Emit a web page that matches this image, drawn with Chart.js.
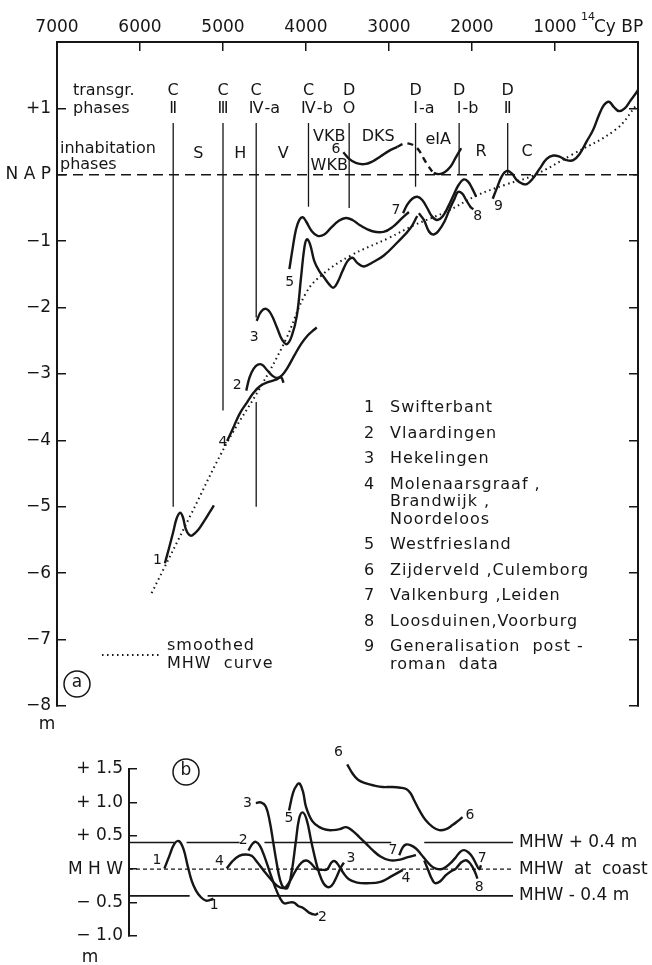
<!DOCTYPE html>
<html>
<head>
<meta charset="utf-8">
<script src="https://cdn.jsdelivr.net/npm/chart.js@4.4.1/dist/chart.umd.min.js"></script>
<style>
html, body { margin: 0; padding: 0; background: #fff; }
#wrap { position: relative; width: 652px; height: 965px; overflow: hidden; }
.box { position: absolute; left: 0; }
</style>
</head>
<body>
<div id="wrap">
  <div class="box" style="top:0"><canvas id="chartA" width="652" height="740"></canvas></div>
  <div class="box" style="top:740px"><canvas id="chartB" width="652" height="225"></canvas></div>
</div>
<script>
const INK = '#161616';
const FONT = '"DejaVu Sans", sans-serif';
Chart.defaults.font.family = FONT;
Chart.defaults.color = INK;

// ---------- (a) relative sea level curves, [14C yr BP, m NAP] ----------
const smoothedMHW = [[5860,-6.3],[5400,-5.15],[4950,-4.03],[4550,-3.2],[4250,-2.5],[4000,-1.78],[3800,-1.5],[3467,-1.22],[3000,-0.95],[2700,-0.76],[2300,-0.55],[1940,-0.31],[1600,-0.15],[1260,-0.01],[800,0.3],[260,0.69],[20,1.05]];
const swifterbant = [[5700,-5.85],[5650,-5.62],[5600,-5.38],[5560,-5.18],[5520,-5.09],[5485,-5.15],[5450,-5.33],[5410,-5.42],[5370,-5.43],[5300,-5.35],[5220,-5.2],[5160,-5.08],[5110,-4.98]];
const vlaardingen = [[4720,-3.25],[4680,-3.05],[4630,-2.92],[4580,-2.86],[4530,-2.86],[4470,-2.94],[4410,-3.02],[4350,-3.06],[4290,-3.02],[4220,-2.9],[4140,-2.72],[4060,-2.55],[3980,-2.42],[3900,-2.33],[3870,-2.3]];
const hekelingen = [[4595,-2.2],[4540,-2.06],[4480,-2.02],[4420,-2.1],[4350,-2.3],[4290,-2.48],[4230,-2.55],[4170,-2.42],[4110,-2.12],[4060,-1.55],[4020,-1.1],[3990,-0.97],[3950,-1.05],[3900,-1.3],[3840,-1.45],[3780,-1.55],[3720,-1.65],[3670,-1.7],[3620,-1.62],[3560,-1.45],[3500,-1.3],[3440,-1.25],[3380,-1.33],[3300,-1.38],[3200,-1.32],[3066,-1.22],[2900,-1.02],[2745,-0.81],[2660,-0.62]];
const molenaarsgraaf = [[4950,-4.01],[4880,-3.82],[4800,-3.6],[4712,-3.43],[4630,-3.28],[4552,-3.18],[4450,-3.12],[4350,-3.08],[4300,-3.05],[4271,-3.13]];
const westfriesland = [[4200,-1.42],[4160,-1.1],[4120,-0.82],[4080,-0.68],[4040,-0.64],[4000,-0.7],[3930,-0.85],[3860,-0.92],[3780,-0.9],[3700,-0.8],[3600,-0.69],[3520,-0.65],[3440,-0.68],[3350,-0.76],[3200,-0.85],[3066,-0.86],[2950,-0.78],[2840,-0.65],[2760,-0.56]];
const zijderveld = [[3550,0.34],[3480,0.24],[3400,0.18],[3300,0.16],[3200,0.2],[3100,0.28],[3000,0.36],[2900,0.42],[2820,0.47],[2760,0.47],[2700,0.44],[2640,0.37],[2580,0.24],[2520,0.12],[2460,0.03],[2400,0.01],[2330,0.04],[2260,0.12],[2200,0.25],[2130,0.4]];
const zijderveldDashed = [2910, 2460];
const valkenburg = [[2830,-0.58],[2780,-0.45],[2720,-0.36],[2660,-0.33],[2600,-0.38],[2540,-0.5],[2480,-0.63],[2420,-0.68],[2350,-0.62],[2280,-0.46],[2220,-0.3],[2160,-0.15],[2100,-0.07],[2050,-0.1],[2000,-0.2],[1950,-0.33]];
const loosduinen = [[2640,-0.58],[2580,-0.68],[2520,-0.85],[2460,-0.9],[2400,-0.84],[2330,-0.7],[2270,-0.52],[2210,-0.36],[2170,-0.26],[2120,-0.28],[2070,-0.38],[2020,-0.48],[1985,-0.52]];
const postRoman = [[1750,-0.36],[1700,-0.2],[1640,-0.02],[1580,0.06],[1520,0.02],[1460,-0.08],[1400,-0.13],[1340,-0.14],[1270,-0.06],[1180,0.1],[1100,0.24],[1020,0.29],[940,0.27],[860,0.22],[780,0.22],[700,0.32],[620,0.5],[540,0.68],[470,0.9],[410,1.05],[350,1.1],[290,1.02],[230,0.96],[160,1.0],[90,1.12],[30,1.22],[0,1.28]];

// transgression phases (vertical lines)
const phaseYears = [5600, 5000, 4600, 3970, 3480, 2680, 2155, 1570];
const phaseLetters = ['C', 'C', 'C', 'C', 'D', 'D', 'D', 'D'];
const phaseNumerals = ['Ⅱ', 'Ⅲ', 'Ⅳ', 'Ⅳ', 'O', 'Ⅰ', 'Ⅰ', 'Ⅱ'];
const phaseSuffix = ['', '', '-a', '-b', '', '-a', '-b', ''];
const phaseLineTop = 0.78;
const phaseLineBottom = [-5.0, -3.55, -5.0, -0.48, -0.5, -0.18, 0, 0];
const phaseGap = [-2.15, -3.42]; // break in the C IV-a line

// inhabitation phases [label, year, level]
const inhabitation = [['S',5297,0.32],['H',4791,0.32],['V',4273,0.32],['VKB',3720,0.57],['WKB',3720,0.14],['DKS',3130,0.57],['eIA',2408,0.53],['R',1890,0.35],['C',1336,0.35]];
const curveLabelsA = [['1',5790,-5.8],['2',4830,-3.17],['3',4625,-2.45],['4',5000,-4.03],['5',4195,-1.62],['6',3640,0.38],['7',2915,-0.54],['8',1930,-0.62],['9',1680,-0.47]];

const legendNums = ['1', '2', '3', '4', '', '', '5', '6', '7', '8', '9', ''];
const legendText = ['Swifterbant', 'Vlaardingen', 'Hekelingen', 'Molenaarsgraaf ,', 'Brandwijk ,', 'Noordeloos', 'Westfriesland', 'Zijderveld ,Culemborg', 'Valkenburg ,Leiden', 'Loosduinen,Voorburg', 'Generalisation  post -', 'roman  data'];

// ---------- (b) deviation from MHW at coast, [14C yr BP, m] ----------
const devSwifterbant = [[5700,0.01],[5640,0.2],[5580,0.38],[5525,0.42],[5470,0.3],[5420,0.05],[5370,-0.18],[5320,-0.32],[5260,-0.42],[5200,-0.47],[5150,-0.46],[5110,-0.44]];
const devVlaardingen = [[4690,0.28],[4640,0.38],[4600,0.41],[4550,0.35],[4490,0.17],[4430,-0.05],[4370,-0.26],[4310,-0.43],[4260,-0.51],[4200,-0.5],[4140,-0.5],[4090,-0.55],[4030,-0.58],[3960,-0.65],[3890,-0.68],[3850,-0.66]];
const devHekelingen = [[4600,0.99],[4540,1.0],[4480,0.94],[4430,0.7],[4390,0.4],[4350,0.1],[4310,-0.15],[4270,-0.27],[4220,-0.28],[4170,-0.05],[4120,0.4],[4080,0.75],[4040,0.85],[3990,0.75],[3930,0.4],[3870,0.08],[3810,-0.15],[3750,-0.26],[3690,-0.25],[3630,-0.12],[3580,0.02],[3540,0.1]];
const devMolenaarsgraaf = [[4950,0.01],[4880,0.12],[4800,0.2],[4720,0.22],[4650,0.2],[4580,0.1],[4500,-0.03],[4420,-0.15],[4340,-0.25],[4260,-0.28],[4200,-0.2],[4120,-0.02],[4050,0.1],[3990,0.13],[3930,0.08],[3870,0.0],[3800,-0.01],[3740,0.0],[3690,0.1],[3650,0.12],[3600,0.05],[3550,-0.05],[3480,-0.15],[3380,-0.2],[3260,-0.21],[3100,-0.19],[2960,-0.1],[2830,-0.01]];
const devWestfriesland = [[4200,0.88],[4150,1.15],[4100,1.27],[4070,1.28],[4030,1.15],[3995,0.93],[3920,0.72],[3835,0.63],[3750,0.59],[3675,0.585],[3590,0.6],[3514,0.63],[3440,0.58],[3354,0.48],[3270,0.38],[3194,0.285],[3100,0.19],[2994,0.135],[2880,0.14],[2770,0.18],[2673,0.21]];
const devZijderveld = [[3500,1.57],[3440,1.44],[3370,1.34],[3274,1.285],[3170,1.25],[3074,1.23],[2960,1.23],[2860,1.22],[2790,1.2],[2740,1.14],[2690,1.02],[2633,0.885],[2560,0.74],[2473,0.634],[2393,0.585],[2310,0.6],[2233,0.66],[2170,0.72],[2113,0.78]];
const devValkenburg = [[2874,0.21],[2830,0.33],[2790,0.37],[2740,0.36],[2673,0.31],[2610,0.22],[2553,0.135],[2490,0.05],[2433,0.01],[2370,0.0],[2313,0.034],[2250,0.1],[2192,0.18],[2140,0.26],[2093,0.285],[2040,0.25],[1993,0.18],[1950,0.08],[1912,0.0],[1890,0.06]];
const devLoosduinen = [[2573,0.13],[2530,0.0],[2493,-0.115],[2460,-0.19],[2433,-0.21],[2380,-0.18],[2313,-0.09],[2250,-0.03],[2192,0.01],[2130,0.1],[2072,0.135],[2030,0.1],[1993,0.034],[1960,-0.05],[1933,-0.14]];
const mhwLevels = [0.4, 0, -0.4];
const mhwLabels = ['MHW + 0.4 m', 'MHW  at  coast', 'MHW - 0.4 m'];
const mhwRange = [6126, 1505];
const mhwBreaks = [[[5577, 5433], [4796, 4496], [2970, 2573]], [], [[5396, 5180]]];
const curveLabelsB = [['1',5790,0.135],['1',5101,-0.54],['2',4751,0.435],['2',3799,-0.72],['3',4700,0.99],['3',3454,0.165],['4',5036,0.11],['4',2793,-0.135],['5',4200,0.76],['6',3606,1.75],['6',2023,0.81],['7',2950,0.285],['7',1876,0.165],['8',1912,-0.27]];

const pts = arr => arr.map(([x, y]) => ({ x, y }));
const curve = (data, extra) => Object.assign({
  data: pts(data), borderColor: INK, borderWidth: 2.4, pointRadius: 0,
  tension: 0.4, fill: false, clip: false
}, extra || {});

function txt(ctx, s, x, y, size, align, spacing) {
  ctx.font = size + 'px ' + FONT;
  ctx.textAlign = align || 'center';
  ctx.textBaseline = 'middle';
  ctx.fillStyle = INK;
  ctx.letterSpacing = spacing || '0px';
  ctx.fillText(s, x, y);
  ctx.letterSpacing = '0px';
}

function circled(ctx, s, x, y) {
  ctx.beginPath();
  ctx.lineWidth = 1.5;
  ctx.strokeStyle = INK;
  ctx.arc(x, y, 13, 0, Math.PI * 2);
  ctx.stroke();
  txt(ctx, s, x, y - 1, 17);
}

// ---------- chart (a) ----------
const datasetsA = [];
phaseYears.forEach((yr, i) => {
  const data = [{ x: yr, y: phaseLineTop }];
  if (i === 2) data.push({ x: yr, y: phaseGap[0] }, { x: yr, y: null }, { x: yr, y: phaseGap[1] });
  data.push({ x: yr, y: phaseLineBottom[i] });
  datasetsA.push({ data, borderColor: INK, borderWidth: 1.3, pointRadius: 0, tension: 0, spanGaps: false });
});
datasetsA.push({ data: [{ x: 7000, y: 0 }, { x: 0, y: 0 }], borderColor: INK, borderWidth: 1.6, borderDash: [10, 6], pointRadius: 0, tension: 0 });
datasetsA.push(curve(smoothedMHW, { borderWidth: 2, borderDash: [1.5, 3.5] }));
[swifterbant, vlaardingen, hekelingen, molenaarsgraaf, westfriesland, valkenburg, loosduinen, postRoman]
  .forEach(c => datasetsA.push(curve(c)));
datasetsA.push(curve(zijderveld, {
  segment: {
    borderDash: ctx => (ctx.p0.parsed.x <= zijderveldDashed[0] && ctx.p1.parsed.x >= zijderveldDashed[1]) ? [6, 5] : undefined
  }
}));

const annotateA = {
  id: 'annotateA',
  afterDraw(chart) {
    const { ctx, chartArea, scales: { x, y } } = chart;
    ctx.save();
    // transgression phases header
    txt(ctx, 'transgr.', chartArea.left + 16, y.getPixelForValue(1.27), 16, 'left');
    txt(ctx, 'phases', chartArea.left + 16, y.getPixelForValue(1.0), 16, 'left');
    phaseYears.forEach((yr, i) => {
      const px = x.getPixelForValue(yr);
      txt(ctx, phaseLetters[i], px, y.getPixelForValue(1.27), 16);
      ctx.font = '16px ' + FONT;
      const w = ctx.measureText(phaseNumerals[i]).width;
      txt(ctx, phaseNumerals[i], px, y.getPixelForValue(1.0), 16);
      if (phaseSuffix[i]) txt(ctx, phaseSuffix[i], px + w / 2 + 1, y.getPixelForValue(1.0), 16, 'left');
    });
    // inhabitation phases
    txt(ctx, 'inhabitation', chartArea.left + 3, y.getPixelForValue(0.39), 16, 'left');
    txt(ctx, 'phases', chartArea.left + 3, y.getPixelForValue(0.15), 16, 'left');
    inhabitation.forEach(([s, yr, lv]) => txt(ctx, s, x.getPixelForValue(yr), y.getPixelForValue(lv), 16));
    // curve numbers
    curveLabelsA.forEach(([s, yr, lv]) => txt(ctx, s, x.getPixelForValue(yr), y.getPixelForValue(lv), 14));
    // axis unit labels
    txt(ctx, '14', 588, 17, 11);
    txt(ctx, 'Cy BP', 594, 28, 17, 'left');
    txt(ctx, 'm', 47, chartArea.bottom + 19, 17);
    // site legend
    let ly = 408;
    legendText.forEach((s, i) => {
      if (legendNums[i]) txt(ctx, legendNums[i], 369, ly, 16);
      txt(ctx, s, 390, ly, 16, 'left', '1px');
      const next = legendNums[i + 1];
      ly += (next === '' || legendNums[i] === '' && next === undefined) ? 17.5 : 25.5;
    });
    // smoothed curve key
    ctx.beginPath();
    ctx.setLineDash([1.5, 3.5]);
    ctx.lineWidth = 2;
    ctx.strokeStyle = INK;
    ctx.moveTo(102, 655);
    ctx.lineTo(160, 655);
    ctx.stroke();
    ctx.setLineDash([]);
    txt(ctx, 'smoothed', 167, 646, 16, 'left', '1px');
    txt(ctx, 'MHW  curve', 167, 664, 16, 'left', '1px');
    circled(ctx, 'a', 77, 684);
    ctx.restore();
  }
};

const axisGrid = { drawOnChartArea: false, tickLength: -9, color: INK, lineWidth: 1.5 };
const axisBorder = { color: INK, width: 2 };

new Chart(document.getElementById('chartA'), {
  type: 'line',
  data: { datasets: datasetsA },
  options: {
    responsive: false,
    animation: false,
    layout: { padding: { bottom: 34 } },
    plugins: { legend: { display: false }, tooltip: { enabled: false } },
    scales: {
      x: {
        type: 'linear', position: 'top', reverse: true, min: 0, max: 7000,
        afterFit: s => { s.height = 42; },
        ticks: { stepSize: 1000, padding: 13, autoSkip: false, maxRotation: 0, color: INK, font: { size: 17 },
          callback: v => v === 0 ? '' : String(v) },
        grid: axisGrid, border: axisBorder
      },
      y: {
        position: 'left', min: -8, max: 2,
        afterFit: s => { s.width = 57; },
        ticks: { stepSize: 1, padding: 15, color: INK, font: { size: 17 },
          callback: v => v === 2 ? '' : v === 0 ? 'N A P' : v > 0 ? '+' + v : '−' + (-v) },
        grid: axisGrid, border: axisBorder
      },
      y2: {
        position: 'right', min: -8, max: 2,
        afterFit: s => { s.width = 14; },
        ticks: { display: false, stepSize: 1 },
        grid: axisGrid, border: axisBorder
      }
    }
  },
  plugins: [annotateA]
});

// ---------- chart (b) ----------
const datasetsB = [];
mhwLevels.forEach((lv, i) => {
  const data = [{ x: mhwRange[0], y: lv }];
  mhwBreaks[i].forEach(([a, b]) => data.push({ x: a, y: lv }, { x: (a + b) / 2, y: null }, { x: b, y: lv }));
  data.push({ x: mhwRange[1], y: lv });
  datasetsB.push({
    data, borderColor: INK, pointRadius: 0, tension: 0, spanGaps: false,
    borderWidth: lv === 0 ? 1.2 : 1.6, borderDash: lv === 0 ? [4, 3] : []
  });
});
[devSwifterbant, devVlaardingen, devHekelingen, devMolenaarsgraaf, devWestfriesland, devZijderveld, devValkenburg, devLoosduinen]
  .forEach(c => datasetsB.push(curve(c)));

const annotateB = {
  id: 'annotateB',
  afterDraw(chart) {
    const { ctx, chartArea, scales: { x, y } } = chart;
    ctx.save();
    mhwLevels.forEach((lv, i) => txt(ctx, mhwLabels[i], chartArea.right + 6, y.getPixelForValue(lv), 17, 'left'));
    curveLabelsB.forEach(([s, yr, lv]) => txt(ctx, s, x.getPixelForValue(yr), y.getPixelForValue(lv), 14));
    txt(ctx, 'm', 90, 218, 17);
    circled(ctx, 'b', 186, 32);
    ctx.restore();
  }
};

new Chart(document.getElementById('chartB'), {
  type: 'line',
  data: { datasets: datasetsB },
  options: {
    responsive: false,
    animation: false,
    layout: { padding: { top: 29, bottom: 29, right: 139 } },
    plugins: { legend: { display: false }, tooltip: { enabled: false } },
    scales: {
      x: { type: 'linear', reverse: true, min: 1505, max: 6126, display: false },
      y: {
        position: 'left', min: -1, max: 1.5,
        afterFit: s => { s.width = 129; },
        ticks: { stepSize: 0.5, padding: 14, color: INK, font: { size: 17 },
          callback: v => Math.abs(v) < 1e-9 ? 'M H W' : (v > 0 ? '+ ' : '− ') + Math.abs(v).toFixed(1) },
        grid: { drawOnChartArea: false, tickLength: -8, color: INK, lineWidth: 1.5 },
        border: axisBorder
      }
    }
  },
  plugins: [annotateB]
});
</script>
</body>
</html>
